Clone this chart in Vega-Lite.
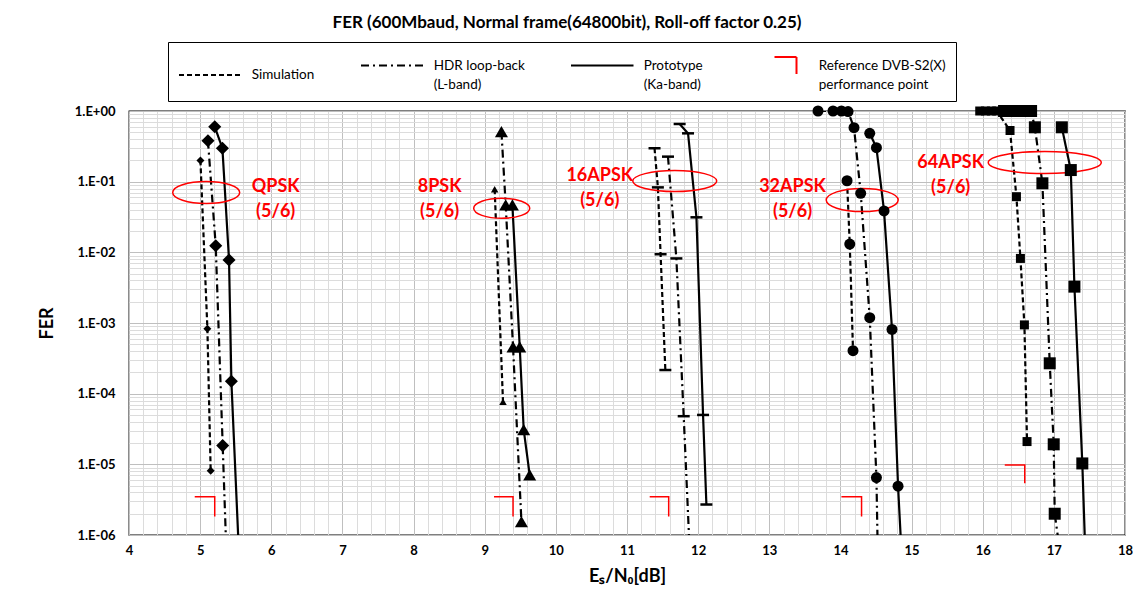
{
  "$schema": "https://vega.github.io/schema/vega-lite/v6.json",
  "width": 996,
  "height": 424,
  "autosize": {"type": "none"},
  "padding": {"left": 129, "top": 111, "right": 8, "bottom": 66},
  "background": "white",
  "title": {
    "text": "FER (600Mbaud, Normal frame(64800bit), Roll-off factor 0.25)",
    "font": "Lato", "fontSize": 17, "fontWeight": "bold", "color": "black",
    "anchor": "middle", "frame": "group", "dx": -60, "offset": 10
  },
  "config": {
    "font": "Lato",
    "view": {"stroke": "black", "strokeWidth": 1.3},
    "axis": {
      "labelFont": "Lato", "labelFontWeight": "bold", "labelFontSize": 13, "labelColor": "black",
      "titleFont": "Lato", "titleFontWeight": "bold", "titleFontSize": 18, "titleColor": "black",
      "ticks": false, "domain": false, "gridWidth": 1, "labelOverlap": false, "labelFlush": false, "labelBound": false
    }
  },
  "datasets": {
    "curves": [
      {"mod": "QPSK", "series": "Simulation", "x": 5.004, "fer": 0.2},
      {"mod": "QPSK", "series": "Simulation", "x": 5.102, "fer": 0.00083},
      {"mod": "QPSK", "series": "Simulation", "x": 5.148, "fer": 0.0000081},
      {"mod": "QPSK", "series": "HDR loop-back (L-band)", "x": 5.110, "fer": 0.38},
      {"mod": "QPSK", "series": "HDR loop-back (L-band)", "x": 5.219, "fer": 0.0124},
      {"mod": "QPSK", "series": "HDR loop-back (L-band)", "x": 5.317, "fer": 0.0000184},
      {"mod": "QPSK", "series": "HDR loop-back (L-band)", "x": 5.362, "fer": 0.0000009},
      {"mod": "QPSK", "series": "Prototype (Ka-band)", "x": 5.205, "fer": 0.6},
      {"mod": "QPSK", "series": "Prototype (Ka-band)", "x": 5.313, "fer": 0.297},
      {"mod": "QPSK", "series": "Prototype (Ka-band)", "x": 5.406, "fer": 0.0078},
      {"mod": "QPSK", "series": "Prototype (Ka-band)", "x": 5.439, "fer": 0.00015},
      {"mod": "QPSK", "series": "Prototype (Ka-band)", "x": 5.536, "fer": 0.0000009},

      {"mod": "8PSK", "series": "Simulation", "x": 9.140, "fer": 0.078},
      {"mod": "8PSK", "series": "Simulation", "x": 9.257, "fer": 0.000077},
      {"mod": "8PSK", "series": "HDR loop-back (L-band)", "x": 9.235, "fer": 0.51},
      {"mod": "8PSK", "series": "HDR loop-back (L-band)", "x": 9.295, "fer": 0.0468},
      {"mod": "8PSK", "series": "HDR loop-back (L-band)", "x": 9.398, "fer": 0.00046},
      {"mod": "8PSK", "series": "HDR loop-back (L-band)", "x": 9.516, "fer": 0.00000155},
      {"mod": "8PSK", "series": "Prototype (Ka-band)", "x": 9.389, "fer": 0.0468},
      {"mod": "8PSK", "series": "Prototype (Ka-band)", "x": 9.492, "fer": 0.00046},
      {"mod": "8PSK", "series": "Prototype (Ka-band)", "x": 9.548, "fer": 0.000031},
      {"mod": "8PSK", "series": "Prototype (Ka-band)", "x": 9.632, "fer": 0.0000071},

      {"mod": "16APSK", "series": "Simulation", "x": 11.387, "fer": 0.297},
      {"mod": "16APSK", "series": "Simulation", "x": 11.434, "fer": 0.083},
      {"mod": "16APSK", "series": "Simulation", "x": 11.472, "fer": 0.0094},
      {"mod": "16APSK", "series": "Simulation", "x": 11.539, "fer": 0.000216},
      {"mod": "16APSK", "series": "HDR loop-back (L-band)", "x": 11.576, "fer": 0.226},
      {"mod": "16APSK", "series": "HDR loop-back (L-band)", "x": 11.694, "fer": 0.0082},
      {"mod": "16APSK", "series": "HDR loop-back (L-band)", "x": 11.797, "fer": 0.000048},
      {"mod": "16APSK", "series": "HDR loop-back (L-band)", "x": 11.873, "fer": 0.0000009},
      {"mod": "16APSK", "series": "Prototype (Ka-band)", "x": 11.740, "fer": 0.655},
      {"mod": "16APSK", "series": "Prototype (Ka-band)", "x": 11.858, "fer": 0.483},
      {"mod": "16APSK", "series": "Prototype (Ka-band)", "x": 11.976, "fer": 0.0313},
      {"mod": "16APSK", "series": "Prototype (Ka-band)", "x": 12.069, "fer": 0.00005},
      {"mod": "16APSK", "series": "Prototype (Ka-band)", "x": 12.116, "fer": 0.0000027},

      {"mod": "32APSK", "series": "Simulation", "x": 14.093, "fer": 0.103},
      {"mod": "32APSK", "series": "Simulation", "x": 14.131, "fer": 0.0131},
      {"mod": "32APSK", "series": "Simulation", "x": 14.177, "fer": 0.000406},
      {"mod": "32APSK", "series": "HDR loop-back (L-band)", "x": 13.685, "fer": 1},
      {"mod": "32APSK", "series": "HDR loop-back (L-band)", "x": 13.896, "fer": 1},
      {"mod": "32APSK", "series": "HDR loop-back (L-band)", "x": 14.014, "fer": 1},
      {"mod": "32APSK", "series": "HDR loop-back (L-band)", "x": 14.107, "fer": 0.98},
      {"mod": "32APSK", "series": "HDR loop-back (L-band)", "x": 14.191, "fer": 0.58},
      {"mod": "32APSK", "series": "HDR loop-back (L-band)", "x": 14.285, "fer": 0.0685},
      {"mod": "32APSK", "series": "HDR loop-back (L-band)", "x": 14.412, "fer": 0.00119},
      {"mod": "32APSK", "series": "HDR loop-back (L-band)", "x": 14.506, "fer": 0.0000065},
      {"mod": "32APSK", "series": "HDR loop-back (L-band)", "x": 14.521, "fer": 0.0000009},
      {"mod": "32APSK", "series": "Prototype (Ka-band)", "x": 14.412, "fer": 0.483},
      {"mod": "32APSK", "series": "Prototype (Ka-band)", "x": 14.506, "fer": 0.303},
      {"mod": "32APSK", "series": "Prototype (Ka-band)", "x": 14.613, "fer": 0.0385},
      {"mod": "32APSK", "series": "Prototype (Ka-band)", "x": 14.725, "fer": 0.00081},
      {"mod": "32APSK", "series": "Prototype (Ka-band)", "x": 14.810, "fer": 0.0000049},
      {"mod": "32APSK", "series": "Prototype (Ka-band)", "x": 14.848, "fer": 0.0000009},

      {"mod": "64APSK", "series": "Simulation", "x": 15.958, "fer": 1},
      {"mod": "64APSK", "series": "Simulation", "x": 16.038, "fer": 1},
      {"mod": "64APSK", "series": "Simulation", "x": 16.122, "fer": 1},
      {"mod": "64APSK", "series": "Simulation", "x": 16.197, "fer": 1},
      {"mod": "64APSK", "series": "Simulation", "x": 16.384, "fer": 0.53},
      {"mod": "64APSK", "series": "Simulation", "x": 16.474, "fer": 0.0613},
      {"mod": "64APSK", "series": "Simulation", "x": 16.530, "fer": 0.0082},
      {"mod": "64APSK", "series": "Simulation", "x": 16.586, "fer": 0.00094},
      {"mod": "64APSK", "series": "Simulation", "x": 16.623, "fer": 0.000021},
      {"mod": "64APSK", "series": "HDR loop-back (L-band)", "x": 16.30, "fer": 1},
      {"mod": "64APSK", "series": "HDR loop-back (L-band)", "x": 16.40, "fer": 1},
      {"mod": "64APSK", "series": "HDR loop-back (L-band)", "x": 16.50, "fer": 1},
      {"mod": "64APSK", "series": "HDR loop-back (L-band)", "x": 16.60, "fer": 1},
      {"mod": "64APSK", "series": "HDR loop-back (L-band)", "x": 16.68, "fer": 1},
      {"mod": "64APSK", "series": "HDR loop-back (L-band)", "x": 16.733, "fer": 0.588},
      {"mod": "64APSK", "series": "HDR loop-back (L-band)", "x": 16.839, "fer": 0.0948},
      {"mod": "64APSK", "series": "HDR loop-back (L-band)", "x": 16.942, "fer": 0.000269},
      {"mod": "64APSK", "series": "HDR loop-back (L-band)", "x": 16.998, "fer": 0.0000192},
      {"mod": "64APSK", "series": "HDR loop-back (L-band)", "x": 17.012, "fer": 0.000002},
      {"mod": "64APSK", "series": "HDR loop-back (L-band)", "x": 17.060, "fer": 0.0000009},
      {"mod": "64APSK", "series": "Prototype (Ka-band)", "x": 17.112, "fer": 0.588},
      {"mod": "64APSK", "series": "Prototype (Ka-band)", "x": 17.238, "fer": 0.146},
      {"mod": "64APSK", "series": "Prototype (Ka-band)", "x": 17.289, "fer": 0.00327},
      {"mod": "64APSK", "series": "Prototype (Ka-band)", "x": 17.400, "fer": 0.0000103},
      {"mod": "64APSK", "series": "Prototype (Ka-band)", "x": 17.435, "fer": 0.0000009}
    ],
    "refs": [
      {"mod": "QPSK", "series": "Reference DVB-S2(X) performance point", "k": 0, "x": 4.924, "fer": 0.00000348},
      {"mod": "QPSK", "series": "Reference DVB-S2(X) performance point", "k": 1, "x": 5.205, "fer": 0.00000348},
      {"mod": "QPSK", "series": "Reference DVB-S2(X) performance point", "k": 2, "x": 5.205, "fer": 0.00000182},
      {"mod": "8PSK", "series": "Reference DVB-S2(X) performance point", "k": 0, "x": 9.131, "fer": 0.00000348},
      {"mod": "8PSK", "series": "Reference DVB-S2(X) performance point", "k": 1, "x": 9.398, "fer": 0.00000348},
      {"mod": "8PSK", "series": "Reference DVB-S2(X) performance point", "k": 2, "x": 9.398, "fer": 0.00000182},
      {"mod": "16APSK", "series": "Reference DVB-S2(X) performance point", "k": 0, "x": 11.319, "fer": 0.00000348},
      {"mod": "16APSK", "series": "Reference DVB-S2(X) performance point", "k": 1, "x": 11.586, "fer": 0.00000348},
      {"mod": "16APSK", "series": "Reference DVB-S2(X) performance point", "k": 2, "x": 11.586, "fer": 0.00000182},
      {"mod": "32APSK", "series": "Reference DVB-S2(X) performance point", "k": 0, "x": 14.014, "fer": 0.00000348},
      {"mod": "32APSK", "series": "Reference DVB-S2(X) performance point", "k": 1, "x": 14.297, "fer": 0.00000348},
      {"mod": "32APSK", "series": "Reference DVB-S2(X) performance point", "k": 2, "x": 14.297, "fer": 0.00000182},
      {"mod": "64APSK", "series": "Reference DVB-S2(X) performance point", "k": 0, "x": 16.31, "fer": 0.0000098},
      {"mod": "64APSK", "series": "Reference DVB-S2(X) performance point", "k": 1, "x": 16.591, "fer": 0.0000098},
      {"mod": "64APSK", "series": "Reference DVB-S2(X) performance point", "k": 2, "x": 16.591, "fer": 0.0000054}
    ],
    "ellipses": [
      {"mod": "QPSK", "x": 5.085, "fer": 0.0703},
      {"mod": "8PSK", "x": 9.239, "fer": 0.042},
      {"mod": "16APSK", "x": 11.671, "fer": 0.102},
      {"mod": "32APSK", "x": 14.306, "fer": 0.055},
      {"mod": "64APSK", "x": 16.872, "fer": 0.187}
    ],
    "labels": [
      {"mod": "QPSK", "x": 6.062, "fer": 0.0827, "text": "QPSK\n(5/6)"},
      {"mod": "8PSK", "x": 8.367, "fer": 0.084, "text": "8PSK\n(5/6)"},
      {"mod": "16APSK", "x": 10.617, "fer": 0.121, "text": "16APSK\n(5/6)"},
      {"mod": "32APSK", "x": 13.327, "fer": 0.0827, "text": "32APSK\n(5/6)"},
      {"mod": "64APSK", "x": 15.55, "fer": 0.182, "text": "64APSK\n(5/6)"}
    ]
  },
  "encoding": {
    "x": {
      "field": "x", "type": "quantitative",
      "scale": {"domain": [4, 18], "nice": false, "zero": false},
      "axis": {
        "title": "Eₛ/N₀[dB]",
        "values": [4,4.2,4.4,4.6,4.8,5,5.2,5.4,5.6,5.8,6,6.2,6.4,6.6,6.8,7,7.2,7.4,7.6,7.8,8,8.2,8.4,8.6,8.8,9,9.2,9.4,9.6,9.8,10,10.2,10.4,10.6,10.8,11,11.2,11.4,11.6,11.8,12,12.2,12.4,12.6,12.8,13,13.2,13.4,13.6,13.8,14,14.2,14.4,14.6,14.8,15,15.2,15.4,15.6,15.8,16,16.2,16.4,16.6,16.8,17,17.2,17.4,17.6,17.8,18],
        "labelExpr": "abs(datum.value - round(datum.value)) < 0.01 ? format(datum.value, 'd') : ''",
        "labelPadding": 9,
        "titlePadding": 10,
        "gridColor": {"condition": {"test": "abs(datum.value - round(datum.value)) < 0.01", "value": "#bfbfbf"}, "value": "#dcdcdc"}
      }
    },
    "y": {
      "field": "fer", "type": "quantitative",
      "scale": {"type": "log", "domain": [0.000001, 1], "nice": false},
      "axis": {
        "title": "FER",
        "values": [0.000001,0.000002,0.000003,0.000004,0.000005,0.000006,0.000007,0.000008,0.000009,0.00001,0.00002,0.00003,0.00004,0.00005,0.00006,0.00007,0.00008,0.00009,0.0001,0.0002,0.0003,0.0004,0.0005,0.0006,0.0007,0.0008,0.0009,0.001,0.002,0.003,0.004,0.005,0.006,0.007,0.008,0.009,0.01,0.02,0.03,0.04,0.05,0.06,0.07,0.08,0.09,0.1,0.2,0.3,0.4,0.5,0.6,0.7,0.8,0.9,1],
        "labelExpr": "abs(log(datum.value)/LN10 - round(log(datum.value)/LN10)) < 0.001 ? (round(log(datum.value)/LN10) == 0 ? '1.E+00' : '1.E-0' + (-round(log(datum.value)/LN10))) : ''",
        "labelPadding": 14,
        "titlePadding": 18,
        "gridColor": {"condition": {"test": "abs(log(datum.value)/LN10 - round(log(datum.value)/LN10)) < 0.001", "value": "#bfbfbf"}, "value": "#dcdcdc"}
      }
    }
  },
  "layer": [
    {
      "data": {"name": "curves"},
      "mark": {"type": "line", "clip": true, "strokeWidth": 2.2},
      "encoding": {
        "detail": {"field": "mod", "type": "nominal"},
        "color": {
          "field": "series", "type": "nominal",
          "scale": {"domain": ["Simulation", "HDR loop-back (L-band)", "Prototype (Ka-band)", "Reference DVB-S2(X) performance point"], "range": ["black", "black", "black", "#ff0000"]},
          "legend": {
            "title": null, "orient": "none", "legendX": 39, "legendY": -69, "direction": "horizontal", "columns": 4,
            "strokeColor": "black", "fillColor": "white", "padding": 10,
            "symbolType": "stroke", "symbolSize": 625, "symbolStrokeWidth": 2, "symbolOffset": 18.75,
            "labelFont": "Lato", "labelFontSize": 13.5, "labelColor": "black", "labelOffset": 28, "labelLimit": 300,
            "columnPadding": 42,
            "labelExpr": "datum.label == 'HDR loop-back (L-band)' ? ['HDR loop-back', '(L-band)'] : datum.label == 'Prototype (Ka-band)' ? ['Prototype', '(Ka-band)'] : datum.label == 'Reference DVB-S2(X) performance point' ? ['Reference DVB-S2(X)', 'performance point'] : datum.label",
            "encode": {
              "symbols": {"update": {"shape": {"signal": "datum.value == 'Reference DVB-S2(X) performance point' ? 'M -0.22 -0.68 L 1.54 -0.68 L 1.54 0.68' : 'M -2.5 0 L 2.5 0'"}}},
              "labels": {"update": {"lineHeight": {"value": 19}}}
            }
          }
        },
        "strokeDash": {
          "field": "series", "type": "nominal",
          "scale": {"domain": ["Simulation", "HDR loop-back (L-band)", "Prototype (Ka-band)", "Reference DVB-S2(X) performance point"], "range": [[5, 3], [8, 4, 2, 4], [1, 0], [1, 0]]},
          "legend": {
            "title": null, "orient": "none", "legendX": 39, "legendY": -69, "direction": "horizontal", "columns": 4,
            "strokeColor": "black", "fillColor": "white", "padding": 10,
            "symbolType": "stroke", "symbolSize": 625, "symbolStrokeWidth": 2, "symbolOffset": 18.75,
            "labelFont": "Lato", "labelFontSize": 13.5, "labelColor": "black", "labelOffset": 28, "labelLimit": 300,
            "columnPadding": 42,
            "labelExpr": "datum.label == 'HDR loop-back (L-band)' ? ['HDR loop-back', '(L-band)'] : datum.label == 'Prototype (Ka-band)' ? ['Prototype', '(Ka-band)'] : datum.label == 'Reference DVB-S2(X) performance point' ? ['Reference DVB-S2(X)', 'performance point'] : datum.label",
            "encode": {
              "symbols": {"update": {"shape": {"signal": "datum.value == 'Reference DVB-S2(X) performance point' ? 'M -0.22 -0.68 L 1.54 -0.68 L 1.54 0.68' : 'M -2.5 0 L 2.5 0'"}}},
              "labels": {"update": {"lineHeight": {"value": 19}}}
            }
          }
        }
      }
    },
    {
      "data": {"name": "refs"},
      "mark": {"type": "line", "strokeWidth": 1.5, "clip": false},
      "encoding": {
        "detail": {"field": "mod", "type": "nominal"},
        "order": {"field": "k", "type": "quantitative"},
        "color": {"field": "series", "type": "nominal"},
        "strokeDash": {"field": "series", "type": "nominal"}
      }
    },
    {
      "data": {"name": "ellipses"},
      "mark": {"type": "point", "filled": false, "stroke": "#ff0000", "strokeWidth": 1.5, "size": 12769, "opacity": 1, "clip": false},
      "encoding": {
        "shape": {
          "condition": [
            {"test": "datum.mod == 'QPSK'", "value": "M -0.593 0 A 0.593 0.195 0 1 0 0.593 0 A 0.593 0.195 0 1 0 -0.593 0 Z"},
            {"test": "datum.mod == '8PSK'", "value": "M -0.496 0 A 0.496 0.177 0 1 0 0.496 0 A 0.496 0.177 0 1 0 -0.496 0 Z"},
            {"test": "datum.mod == '16APSK'", "value": "M -0.743 0 A 0.743 0.186 0 1 0 0.743 0 A 0.743 0.186 0 1 0 -0.743 0 Z"},
            {"test": "datum.mod == '32APSK'", "value": "M -0.637 0 A 0.637 0.204 0 1 0 0.637 0 A 0.637 0.204 0 1 0 -0.637 0 Z"}
          ],
          "value": "M -1 0 A 1 0.195 0 1 0 1 0 A 1 0.195 0 1 0 -1 0 Z"
        }
      }
    },
    {
      "data": {"name": "curves"},
      "transform": [{"filter": "datum.fer >= 0.000001"}],
      "mark": {"type": "point", "filled": true, "color": "black", "stroke": "black", "opacity": 1, "clip": false},
      "encoding": {
        "shape": {
          "condition": [
            {"test": "datum.mod == 'QPSK'", "value": "diamond"},
            {"test": "datum.mod == '8PSK'", "value": "triangle-up"},
            {"test": "datum.mod == '16APSK'", "value": "stroke"},
            {"test": "datum.mod == '32APSK'", "value": "circle"}
          ],
          "value": "square"
        },
        "size": {
          "condition": [
            {"test": "datum.series == 'Simulation' && datum.mod == 'QPSK'", "value": 64},
            {"test": "datum.series == 'Simulation' && datum.mod == '8PSK'", "value": 56},
            {"test": "datum.series == 'Simulation' && datum.mod == '64APSK'", "value": 81},
            {"test": "datum.mod == '32APSK'", "value": 121},
            {"test": "datum.mod == '16APSK'", "value": 144},
            {"test": "datum.mod == '64APSK'", "value": 144}
          ],
          "value": 170
        },
        "strokeWidth": {"condition": {"test": "datum.mod == '16APSK'", "value": 2.5}, "value": 0}
      }
    },
    {
      "data": {"name": "labels"},
      "mark": {"type": "text", "color": "#ff0000", "font": "Lato", "fontWeight": "bold", "fontSize": 18, "lineBreak": "\n", "lineHeight": 25, "align": "center", "baseline": "middle"},
      "encoding": {"text": {"field": "text", "type": "nominal"}}
    }
  ]
}
